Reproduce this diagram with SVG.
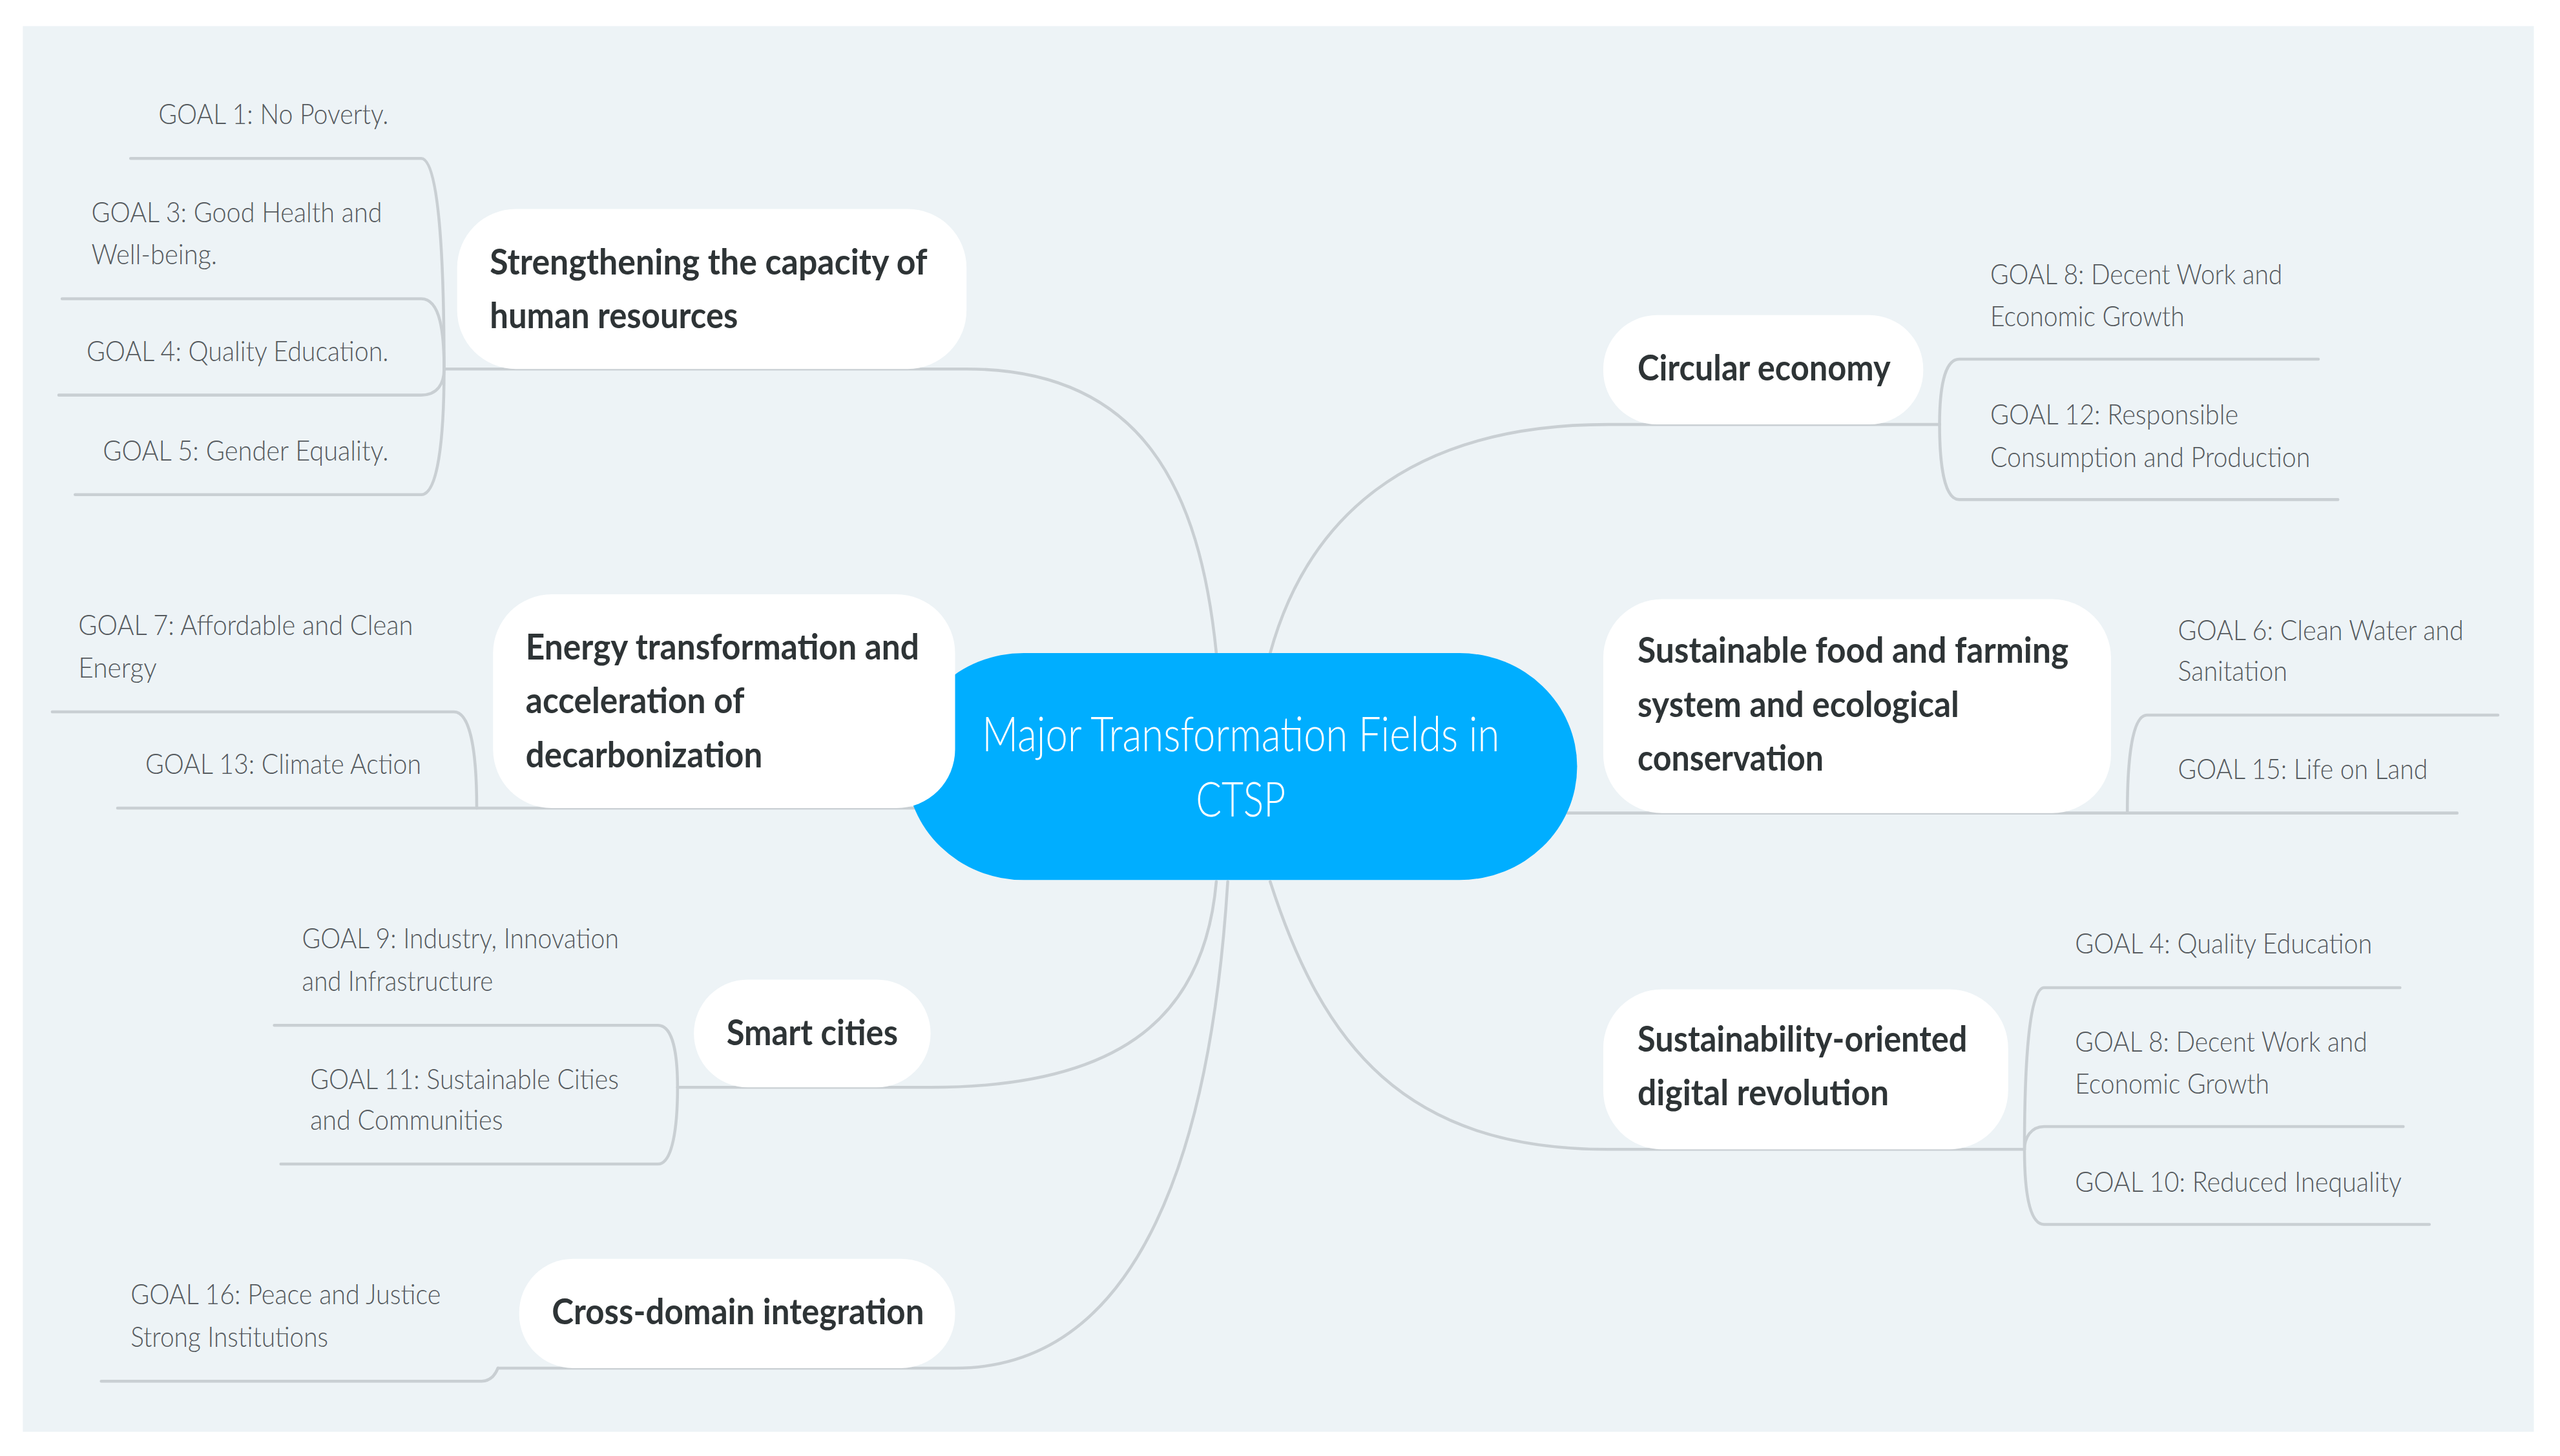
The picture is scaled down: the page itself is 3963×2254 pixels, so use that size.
<svg xmlns="http://www.w3.org/2000/svg" width="3963" height="2254" viewBox="0 0 3963 2254">
<style>
.bg{fill:#EDF3F6}
.ln{fill:none;stroke:#C9CFD3;stroke-width:1.8;stroke-linecap:round}
.nd{fill:#FFFFFF}
.bt{font-family:Lato,"Open Sans",sans-serif;font-weight:bold;font-size:22px;fill:#2E3436}
.ct{font-family:Lato,"Open Sans",sans-serif;font-weight:300;font-size:17px;fill:#555A5E}
.mt{font-family:Lato,"Open Sans",sans-serif;font-weight:300;font-size:30px;fill:#FFFFFF;text-anchor:middle}
</style>
<rect width="3963" height="2254" fill="#FFFFFF"/>
<g transform="scale(2.5274)">
<rect class="bg" x="14" y="16" width="1538" height="861"/>
<g id="connectors">
<path class="ln" d="M745,400 C735,300 700,226 592,226 L272,226"/>
<path class="ln" d="M272,226 C272,150 268,97 258,97 L80,97"/>
<path class="ln" d="M272,226 C272,205 270,183 258,183 L38,183"/>
<path class="ln" d="M272,226 C272,235 268,242 258,242 L36,242"/>
<path class="ln" d="M272,226 C272,270 268,303 258,303 L46,303"/>
<path class="ln" d="M560,495 L292,495"/>
<path class="ln" d="M292,495 C292,460 288,436 278,436 L32,436"/>
<path class="ln" d="M292,495 L72,495"/>
<path class="ln" d="M745,540 C738,620 690,666 570,666 L415,666"/>
<path class="ln" d="M415,666 C415,645 412,628 403,628 L168,628"/>
<path class="ln" d="M415,666 C415,690 412,713 403,713 L172,713"/>
<path class="ln" d="M752,540 C742,700 700,838 585,838 L305,838"/>
<path class="ln" d="M305,838 C303,843 300,846 295,846 L62,846"/>
<path class="ln" d="M778,400 C800,320 860,260 985,260 L1188,260"/>
<path class="ln" d="M1188,260 C1188,238 1191,220 1200,220 L1420,220"/>
<path class="ln" d="M1188,260 C1188,285 1191,306 1200,306 L1432,306"/>
<path class="ln" d="M960,498 L1303,498"/>
<path class="ln" d="M1303,498 C1303,465 1306,438 1315,438 L1530,438"/>
<path class="ln" d="M1303,498 L1505,498"/>
<path class="ln" d="M778,540 C810,640 860,704 985,704 L1240,704"/>
<path class="ln" d="M1240,704 C1240,650 1243,605 1252,605 L1470,605"/>
<path class="ln" d="M1240,704 C1240,697 1244,690 1252,690 L1472,690"/>
<path class="ln" d="M1240,704 C1240,730 1243,750 1252,750 L1488,750"/>
</g>
<g id="center">
<rect x="555" y="400" width="411" height="139" rx="72" ry="70" fill="#00AEFF"/>
<text class="mt" x="760" y="460" textLength="317" lengthAdjust="spacingAndGlyphs">Major Transformation Fields in</text>
<text class="mt" x="760" y="500" textLength="55" lengthAdjust="spacingAndGlyphs">CTSP</text>
</g>
<g id="n1">
<rect class="nd" x="280" y="128" width="312" height="98" rx="36"/>
<text class="bt" x="300" y="168" textLength="268" lengthAdjust="spacingAndGlyphs">Strengthening the capacity of</text>
<text class="bt" x="300" y="201" textLength="152" lengthAdjust="spacingAndGlyphs">human resources</text>
</g>
<g id="n1c">
<text class="ct" x="97" y="76" textLength="141" lengthAdjust="spacingAndGlyphs">GOAL 1: No Poverty.</text>
<text class="ct" x="56" y="136" textLength="178" lengthAdjust="spacingAndGlyphs">GOAL 3: Good Health and</text>
<text class="ct" x="56" y="162" textLength="77" lengthAdjust="spacingAndGlyphs">Well-being.</text>
<text class="ct" x="53" y="221" textLength="185" lengthAdjust="spacingAndGlyphs">GOAL 4: Quality Education.</text>
<text class="ct" x="63" y="282" textLength="175" lengthAdjust="spacingAndGlyphs">GOAL 5: Gender Equality.</text>
</g>
<g id="n2">
<rect class="nd" x="302" y="364" width="283" height="131" rx="36"/>
<text class="bt" x="322" y="404" textLength="241" lengthAdjust="spacingAndGlyphs">Energy transformation and</text>
<text class="bt" x="322" y="437" textLength="134" lengthAdjust="spacingAndGlyphs">acceleration of</text>
<text class="bt" x="322" y="470" textLength="145" lengthAdjust="spacingAndGlyphs">decarbonization</text>
</g>
<g id="n2c">
<text class="ct" x="48" y="389" textLength="205" lengthAdjust="spacingAndGlyphs">GOAL 7: Affordable and Clean</text>
<text class="ct" x="48" y="415" textLength="48" lengthAdjust="spacingAndGlyphs">Energy</text>
<text class="ct" x="89" y="474" textLength="169" lengthAdjust="spacingAndGlyphs">GOAL 13: Climate Action</text>
</g>
<g id="n3">
<rect class="nd" x="425" y="600" width="145" height="66" rx="33"/>
<text class="bt" x="445" y="640" textLength="105" lengthAdjust="spacingAndGlyphs">Smart cities</text>
</g>
<g id="n3c">
<text class="ct" x="185" y="581" textLength="194" lengthAdjust="spacingAndGlyphs">GOAL 9: Industry, Innovation</text>
<text class="ct" x="185" y="607" textLength="117" lengthAdjust="spacingAndGlyphs">and Infrastructure</text>
<text class="ct" x="190" y="667" textLength="189" lengthAdjust="spacingAndGlyphs">GOAL 11: Sustainable Cities</text>
<text class="ct" x="190" y="692" textLength="118" lengthAdjust="spacingAndGlyphs">and Communities</text>
</g>
<g id="n4">
<rect class="nd" x="318" y="771" width="267" height="67" rx="33"/>
<text class="bt" x="338" y="811" textLength="228" lengthAdjust="spacingAndGlyphs">Cross-domain integration</text>
</g>
<g id="n4c">
<text class="ct" x="80" y="799" textLength="190" lengthAdjust="spacingAndGlyphs">GOAL 16: Peace and Justice</text>
<text class="ct" x="80" y="825" textLength="121" lengthAdjust="spacingAndGlyphs">Strong Institutions</text>
</g>
<g id="n5">
<rect class="nd" x="982" y="193" width="196" height="67" rx="33"/>
<text class="bt" x="1003" y="233" textLength="155" lengthAdjust="spacingAndGlyphs">Circular economy</text>
</g>
<g id="n5c">
<text class="ct" x="1219" y="174" textLength="179" lengthAdjust="spacingAndGlyphs">GOAL 8: Decent Work and</text>
<text class="ct" x="1219" y="200" textLength="119" lengthAdjust="spacingAndGlyphs">Economic Growth</text>
<text class="ct" x="1219" y="260" textLength="152" lengthAdjust="spacingAndGlyphs">GOAL 12: Responsible</text>
<text class="ct" x="1219" y="286" textLength="196" lengthAdjust="spacingAndGlyphs">Consumption and Production</text>
</g>
<g id="n6">
<rect class="nd" x="982" y="367" width="311" height="131" rx="36"/>
<text class="bt" x="1003" y="406" textLength="264" lengthAdjust="spacingAndGlyphs">Sustainable food and farming</text>
<text class="bt" x="1003" y="439" textLength="197" lengthAdjust="spacingAndGlyphs">system and ecological</text>
<text class="bt" x="1003" y="472" textLength="114" lengthAdjust="spacingAndGlyphs">conservation</text>
</g>
<g id="n6c">
<text class="ct" x="1334" y="392" textLength="175" lengthAdjust="spacingAndGlyphs">GOAL 6: Clean Water and</text>
<text class="ct" x="1334" y="417" textLength="67" lengthAdjust="spacingAndGlyphs">Sanitation</text>
<text class="ct" x="1334" y="477" textLength="153" lengthAdjust="spacingAndGlyphs">GOAL 15: Life on Land</text>
</g>
<g id="n7">
<rect class="nd" x="982" y="606" width="248" height="98" rx="36"/>
<text class="bt" x="1003" y="644" textLength="202" lengthAdjust="spacingAndGlyphs">Sustainability-oriented</text>
<text class="bt" x="1003" y="677" textLength="154" lengthAdjust="spacingAndGlyphs">digital revolution</text>
</g>
<g id="n7c">
<text class="ct" x="1271" y="584" textLength="182" lengthAdjust="spacingAndGlyphs">GOAL 4: Quality Education</text>
<text class="ct" x="1271" y="644" textLength="179" lengthAdjust="spacingAndGlyphs">GOAL 8: Decent Work and</text>
<text class="ct" x="1271" y="670" textLength="119" lengthAdjust="spacingAndGlyphs">Economic Growth</text>
<text class="ct" x="1271" y="730" textLength="200" lengthAdjust="spacingAndGlyphs">GOAL 10: Reduced Inequality</text>
</g>
</g>
</svg>
